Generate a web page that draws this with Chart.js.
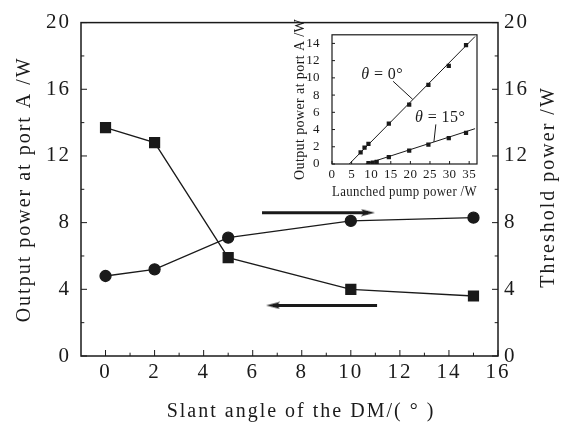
<!DOCTYPE html>
<html>
<head>
    <title>Slant angle of the DM</title>
    <script src="https://cdn.jsdelivr.net/npm/chart.js"></script>
    <style>
        body {
            margin: 0;
            background: #fff;
        }
        .chart-container {
            position: relative;
            width: 569px;
            height: 429px;
        }
        .inset {
            position: absolute;
            left: 280px;
            top: 15px;
            width: 210px;
            height: 195px;
        }
    </style>
</head>
<body>
    <div class="chart-container">
        <canvas id="mainChart"></canvas>
        <div class="inset"><canvas id="insetChart"></canvas></div>
    </div>

    <script>
        // main plot data
        const angles = [0, 2, 5, 10, 15];
        const outputPower = [13.7, 12.8, 5.9, 4.0, 3.6];      // left axis, squares
        const thresholdPower = [4.8, 5.2, 7.1, 8.1, 8.3];     // right axis, circles
        const xTicks = [0, 2, 4, 6, 8, 10, 12, 14, 16];
        const yTicks = [0, 4, 8, 12, 16, 20];

        // arrows pointing to the axis of each curve
        const arrowRightX = [6.38, 10.7];
        const arrowRightY = [8.6, 8.6];
        const arrowLeftX = [11.07, 6.83];
        const arrowLeftY = [3.03, 3.03];

        // inset data
        const pump0 = [7.3, 8.3, 9.3, 14.5, 19.7, 24.6, 29.8, 34.2];
        const out0 = [1.35, 1.9, 2.35, 4.7, 6.9, 9.2, 11.4, 13.8];
        const pump15 = [9.3, 10.4, 11.4, 14.5, 19.7, 24.6, 29.8, 34.2];
        const out15 = [0.1, 0.15, 0.25, 0.8, 1.55, 2.25, 3.0, 3.6];
        const fit0X = [4.4, 36.5];
        const fit0Y = [0, 14.8];
        const fit15X = [8.6, 36.5];
        const fit15Y = [0, 4.1];
        const leader0X = [15.6, 20.6];
        const leader0Y = [9.6, 7.5];
        const leader15X = [26.5, 26.0];
        const leader15Y = [4.6, 2.55];

        const pts = (xs, ys) => xs.map((x, i) => ({x: x, y: ys[i]}));
        const ink = '#1a1a1a';
        const serif = "'Liberation Serif', 'Times New Roman', serif";

        // narrow arrow head used as point style
        const arrowHead = document.createElement('canvas');
        arrowHead.width = 14;
        arrowHead.height = 8;
        (function () {
            const c = arrowHead.getContext('2d');
            c.fillStyle = ink;
            c.beginPath();
            c.moveTo(0, 0.5);
            c.lineTo(14, 4);
            c.lineTo(0, 7.5);
            c.lineTo(3, 4);
            c.closePath();
            c.fill();
        })();

        // letter spacing, box, inward tick marks and free texts
        const framePlugin = {
            id: 'frame',
            beforeDraw(chart, args, opts) {
                chart.ctx.letterSpacing = opts.spacing || '0px';
            },
            afterDatasetsDraw(chart, args, opts) {
                const ctx = chart.ctx;
                const a = chart.chartArea;
                ctx.save();
                ctx.strokeStyle = ink;
                ctx.lineWidth = opts.width;
                ctx.strokeRect(a.left, a.top, a.right - a.left, a.bottom - a.top);
                ctx.lineWidth = 1;
                (opts.marks || []).forEach(t => {
                    const s = chart.scales[t.axis];
                    for (let v = t.from; v <= t.to + 1e-9; v += t.minor) {
                        const len = Math.abs(v / t.major - Math.round(v / t.major)) < 1e-6 ? t.len : t.len * 0.55;
                        const p = s.getPixelForValue(v);
                        ctx.beginPath();
                        if (t.side === 'bottom') { ctx.moveTo(p, a.bottom); ctx.lineTo(p, a.bottom - len); }
                        if (t.side === 'left') { ctx.moveTo(a.left, p); ctx.lineTo(a.left + len, p); }
                        if (t.side === 'right') { ctx.moveTo(a.right, p); ctx.lineTo(a.right - len, p); }
                        ctx.stroke();
                    }
                });
                ctx.fillStyle = ink;
                ctx.textBaseline = 'middle';
                (opts.labels || []).forEach(l => {
                    const x = chart.scales.x.getPixelForValue(l.x);
                    const y = chart.scales.y.getPixelForValue(l.y);
                    ctx.textAlign = 'left';
                    ctx.font = 'italic 16px ' + serif;
                    const w1 = ctx.measureText('\u03b8').width;
                    ctx.font = '16px ' + serif;
                    const w2 = ctx.measureText(l.text).width;
                    const x0 = x - (w1 + w2) / 2;
                    ctx.font = 'italic 16px ' + serif;
                    ctx.fillText('\u03b8', x0, y);
                    ctx.font = '16px ' + serif;
                    ctx.fillText(l.text, x0 + w1, y);
                });
                (opts.titles || []).forEach(t => {
                    ctx.save();
                    ctx.translate(t.x, t.y);
                    ctx.rotate(t.rot || 0);
                    ctx.textAlign = 'center';
                    ctx.font = t.size + 'px ' + serif;
                    ctx.fillText(t.text, 0, 0);
                    ctx.restore();
                });
                ctx.restore();
            }
        };

        const tickFont = {family: serif, size: 21};
        const titleFont = {family: serif, size: 20};

        new Chart(document.getElementById('mainChart'), {
            type: 'scatter',
            data: {
                datasets: [
                    {
                        data: pts(angles, outputPower),
                        yAxisID: 'y',
                        showLine: true,
                        borderColor: ink,
                        backgroundColor: ink,
                        borderWidth: 1.3,
                        pointStyle: 'rect',
                        pointRadius: 7
                    },
                    {
                        data: pts(angles, thresholdPower),
                        yAxisID: 'y1',
                        showLine: true,
                        borderColor: ink,
                        backgroundColor: ink,
                        borderWidth: 1.3,
                        pointStyle: 'circle',
                        pointRadius: 5.5
                    },
                    {
                        data: pts(arrowRightX, arrowRightY),
                        yAxisID: 'y1',
                        showLine: true,
                        borderColor: ink,
                        borderWidth: 3,
                        pointStyle: arrowHead,
                        pointRadius: [0, 5],
                        pointRotation: [0, 0]
                    },
                    {
                        data: pts(arrowLeftX, arrowLeftY),
                        yAxisID: 'y',
                        showLine: true,
                        borderColor: ink,
                        borderWidth: 3,
                        pointStyle: arrowHead,
                        pointRadius: [0, 5],
                        pointRotation: [0, 180]
                    }
                ]
            },
            options: {
                responsive: true,
                maintainAspectRatio: false,
                animation: false,
                layout: {padding: {top: 19, left: 0, right: 0, bottom: 0}},
                plugins: {
                    legend: {display: false},
                    tooltip: {enabled: false},
                    frame: {
                        width: 1.5,
                        spacing: '2px',
                        marks: [
                            {axis: 'x', side: 'bottom', from: 0, to: 16, minor: 1, major: 2, len: 6},
                            {axis: 'y', side: 'left', from: 0, to: 20, minor: 2, major: 4, len: 6},
                            {axis: 'y1', side: 'right', from: 0, to: 20, minor: 2, major: 4, len: 6}
                        ],
                        titles: [
                            {text: 'Slant angle of the DM/( \u00b0 )', x: 301, y: 412, size: 20},
                            {text: 'Threshold power /W', x: 549, y: 187, size: 20, rot: -Math.PI / 2}
                        ]
                    }
                },
                scales: {
                    x: {
                        type: 'linear',
                        min: -1,
                        max: 16,
                        afterBuildTicks: s => { s.ticks = xTicks.map(v => ({value: v})); },
                        afterFit: s => { s.height = 73; },
                        grid: {display: false, drawTicks: false},
                        border: {display: false},
                        ticks: {font: tickFont, color: ink, padding: 4, maxRotation: 0, autoSkip: false}
                    },
                    y: {
                        position: 'left',
                        min: 0,
                        max: 20,
                        afterBuildTicks: s => { s.ticks = yTicks.map(v => ({value: v})); },
                        afterFit: s => { s.width = 81; },
                        grid: {display: false, drawTicks: false},
                        border: {display: false},
                        ticks: {font: tickFont, color: ink, padding: 10, autoSkip: false},
                        title: {display: true, text: 'Output power at port A /W', font: titleFont, color: ink, padding: {top: 13, bottom: 0}}
                    },
                    y1: {
                        position: 'right',
                        min: 0,
                        max: 20,
                        afterBuildTicks: s => { s.ticks = yTicks.map(v => ({value: v})); },
                        afterFit: s => { s.width = 71; },
                        grid: {display: false, drawTicks: false},
                        border: {display: false},
                        ticks: {font: tickFont, color: ink, padding: 6, autoSkip: false}
                    }
                }
            },
            plugins: [framePlugin]
        });

        // inset: output power vs launched pump power
        const insetTick = {family: serif, size: 13};
        const insetTitle = {family: serif, size: 14};
        const thin = {showLine: true, borderColor: ink, borderWidth: 1, pointRadius: 0};

        new Chart(document.getElementById('insetChart'), {
            type: 'scatter',
            data: {
                datasets: [
                    Object.assign({data: pts(fit0X, fit0Y)}, thin),
                    Object.assign({data: pts(fit15X, fit15Y)}, thin),
                    Object.assign({data: pts(leader0X, leader0Y)}, thin),
                    Object.assign({data: pts(leader15X, leader15Y)}, thin),
                    {data: pts(pump0, out0), pointStyle: 'rect', pointRadius: 3, backgroundColor: ink, borderColor: ink, borderWidth: 0},
                    {data: pts(pump15, out15), pointStyle: 'rect', pointRadius: 3, backgroundColor: ink, borderColor: ink, borderWidth: 0}
                ]
            },
            options: {
                responsive: true,
                maintainAspectRatio: false,
                animation: false,
                layout: {padding: {top: 14, left: 0, right: 13, bottom: 0}},
                plugins: {
                    legend: {display: false},
                    tooltip: {enabled: false},
                    frame: {
                        width: 1.2,
                        spacing: '0.4px',
                        marks: [
                            {axis: 'x', side: 'bottom', from: 0, to: 35, minor: 5, major: 5, len: 3},
                            {axis: 'y', side: 'left', from: 0, to: 14, minor: 2, major: 2, len: 3}
                        ],
                        labels: [
                            {x: 12.8, y: 10.4, text: ' = 0\u00b0'},
                            {x: 27.6, y: 5.4, text: ' = 15\u00b0'}
                        ]
                    }
                },
                scales: {
                    x: {
                        type: 'linear',
                        min: 0,
                        max: 37,
                        afterFit: s => { s.height = 46; },
                        grid: {display: false, drawTicks: false},
                        border: {display: false},
                        ticks: {font: insetTick, color: ink, padding: 3, stepSize: 5, includeBounds: false, maxRotation: 0, autoSkip: false},
                        title: {display: true, text: 'Launched pump power /W', font: insetTitle, color: ink, padding: {top: 0, bottom: 9}}
                    },
                    y: {
                        min: 0,
                        max: 15,
                        afterFit: s => { s.width = 52; },
                        grid: {display: false, drawTicks: false},
                        border: {display: false},
                        ticks: {font: insetTick, color: ink, padding: 12, stepSize: 2, includeBounds: false, autoSkip: false},
                        title: {display: true, text: 'Output power at port A /W', font: insetTitle, color: ink, padding: {top: 12, bottom: 0}}
                    }
                }
            },
            plugins: [framePlugin]
        });
    </script>
</body>
</html>
